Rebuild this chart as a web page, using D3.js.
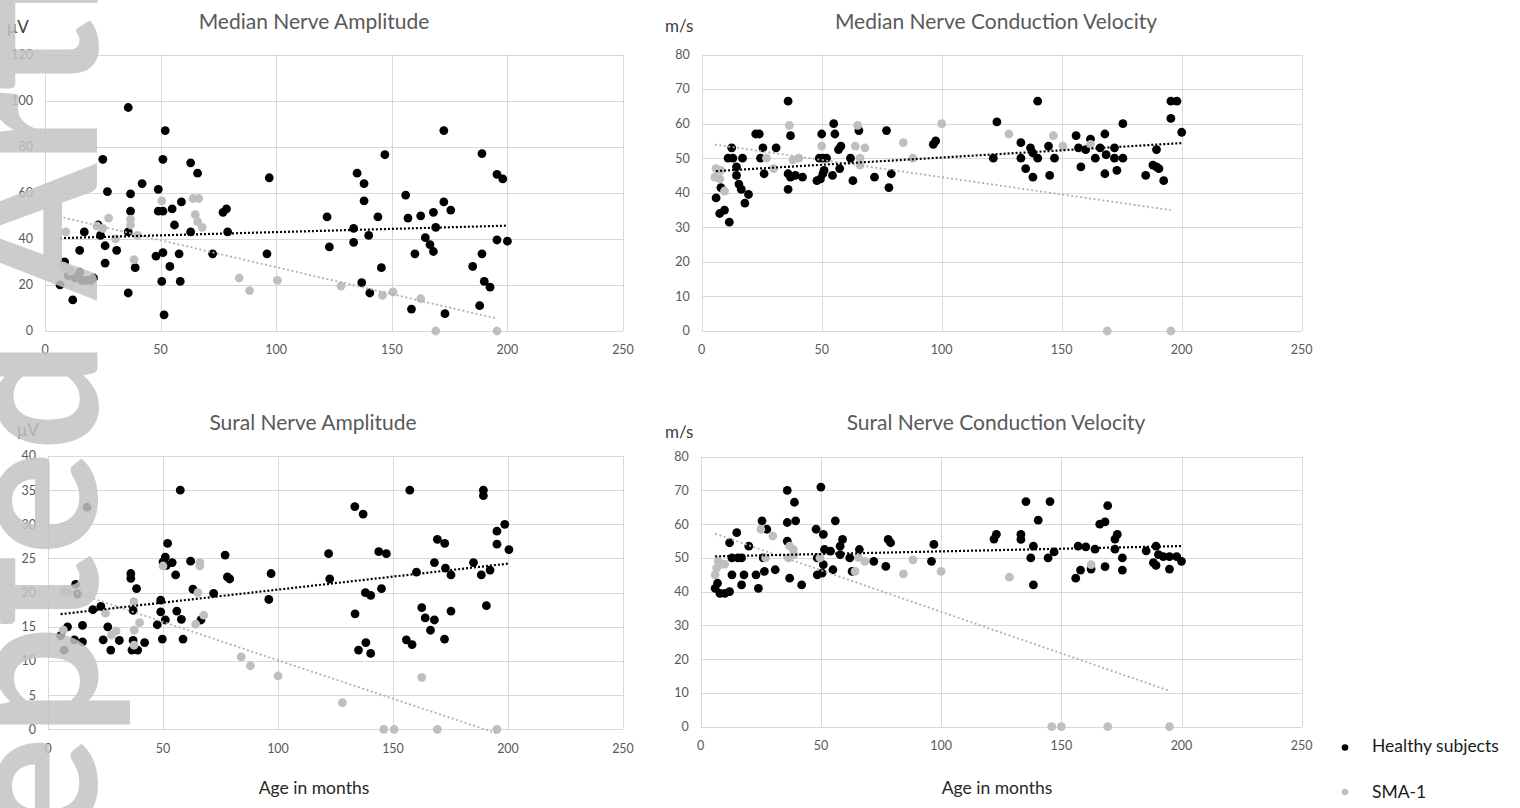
<!DOCTYPE html>
<html><head><meta charset="utf-8">
<script src="https://cdn.jsdelivr.net/npm/d3@7"></script>
<style>
body{margin:0;background:#fff}
svg{display:block}
text{font-family:Lato,"Open Sans",sans-serif}
</style>
</head><body>
<svg id="chart" width="1520" height="808"></svg>
<script>
// ---------- data ----------
const xTicks = [0, 50, 100, 150, 200, 250];
const medianAmpTicks = [0, 20, 40, 60, 80, 100, 120];
const velocityTicks = [0, 10, 20, 30, 40, 50, 60, 70, 80];
const suralAmpTicks = [0, 5, 10, 15, 20, 25, 30, 35, 40];
const seriesNames = ["Healthy subjects", "SMA-1"];
const panelTitles = ["Median Nerve Amplitude", "Median Nerve Conduction Velocity",
                     "Sural Nerve Amplitude", "Sural Nerve Conduction Velocity"];
const unitLabels = ["μV", "m/s", "μV", "m/s"];
const xAxisTitle = "Age in months";
const watermarkText = "Accepted Article";

// [age in months, value]
const medianAmpHealthy = [[36,97],[52,87],[25,74.5],[51,74.5],[63,73],[66,68.5],[97,66.5],[42,64],[49,61.5],[27,60.5],[37,59.5],[59,56],[49,52],[51,52],[55,53],[37,52],[77,51.5],[78.5,53],[56,46],[17,43],[24,41.5],[36,43],[63,43],[79,43],[23,46],[26,37],[15,35],[31,35],[48,32.5],[51,34],[58,33.5],[72.5,33.5],[96,33.5],[8.5,30],[26,29.5],[54,28],[39,27.5],[15,25.5],[10,24],[13,23],[16,22],[18,22],[20,22],[21,23],[6.5,20],[50.5,21.5],[58.5,21.5],[36,16.5],[12,13.5],[51.5,7],[122,49.5],[123,36.5],
  [172.5,87],[147,76.5],[189,77],[135,68.5],[138,64],[195.5,68],[198,66],[138,56.5],[156,59],[172.5,56],[175.5,52.5],[144,49.5],[157,49],[162.5,50],[168,51.5],[133.5,44.5],[169,45],[140,41.5],[133.5,38.5],[164.5,40.5],[166.5,37.5],[168,34.5],[160,33.5],[189,33.5],[195.5,39.5],[200,39],[145.5,27.5],[185,28],[137,21],[190,21.5],[192.5,19],[140.5,16.5],[158.5,9.5],[173,7.5],[188,11]];
const medianAmpSMA = [[50.5,56.5],[64,57.5],[66.5,57.5],[65,50.5],[66,47.5],[68,45],[27.5,49],[37,48.5],[37,46],[9,43],[22.5,45.5],[25,44.5],[30.5,40],[40,41.5],[38.5,31],[8,28],[11,26],[84,23],[88.5,17.5],[100.5,22],[128,19.5],[146,15.5],[150.5,17],[162.5,14],[169,0],[195.5,0]];

const medianCvHealthy = [[36,66.5],[55,60],[50,57],[55.5,57],[65.5,58],[77,58],[37,56.5],[22.5,57],[24,57],[12.5,53],[25.5,53],[31,53],[58,53.5],[57,52.5],[11,50],[13,50],[17,50],[24.5,50],[49,50],[50.5,50],[52,50],[62,50],[14.5,47.5],[57.5,47],[51,46.5],[50.5,45.5],[26,45.5],[36,45.5],[39,45],[37,44.5],[42,44.5],[48,43.5],[49.5,44],[54.5,45],[63,43.5],[72,44.5],[79,45.5],[78,41.5],[14.5,45],[36,41],[15.5,42.5],[16.5,41],[19.5,39.5],[8,41.5],[18,37],[6,38.5],[7.5,34],[9.5,35],[11.5,31.5],[96.5,54],[97.5,55],
  [140,66.5],[195.5,66.5],[198,66.5],[195.5,61.5],[123,60.5],[175.5,60],[200,57.5],[156,56.5],[168,57],[162,55.5],[133,54.5],[144.5,53.5],[157,53],[160,52.5],[166,53],[172,53],[137,53],[138,51.5],[168.5,51],[189.5,52.5],[121.5,50],[133,50],[140,50],[147,50],[164,50],[172,50],[175.5,50],[135,47],[158,47.5],[188,48],[189.5,47.5],[190.5,47],[138,44.5],[145,45],[168,45.5],[173,46.5],[185,45],[192.5,43.5]];
const medianCvSMA = [[36.5,59.5],[65,59.5],[100,60],[50,53.5],[64,53.5],[68,53],[84,54.5],[88,50],[27,50],[38,49.5],[40.5,50],[66,50],[66,48],[30,47],[6,47],[8,46.5],[7.5,44],[5.5,44.5],[9.5,40.5],[128,57],[146.5,56.5],[150.5,53.5],[162,54],[169,0],[195.5,0]];

const suralAmpHealthy = [[57.5,35],[52,27.2],[77,25.5],[51,25.2],[50,24.5],[51.5,24],[54,24.4],[62,24.6],[36,22.8],[36,22.1],[55.5,22.6],[78,22.3],[79,22],[97,22.8],[38.5,20.6],[12,21.2],[12.8,19.8],[63,20.5],[72,19.9],[96,19],[49,18.9],[23,18],[19.5,17.5],[56,17.3],[37,17.4],[49,17.2],[58,16.1],[51,16],[66.5,16],[47.5,15.3],[26,15],[8.5,15],[15,15.2],[5.5,13.7],[11.5,13.1],[15,12.8],[24,13.1],[31,13],[37,13],[42,12.7],[49.7,13.2],[58.7,13.2],[7,11.6],[27.3,11.6],[39,11.6],[36.5,11.6],[17,32.5],
  [122,25.7],[122.5,22],[157.3,35],[189.3,35],[189.3,34.2],[133.4,32.6],[137,31.5],[198.6,30],[195.2,29],[169.3,27.8],[172.5,27.2],[195.2,27.1],[200.4,26.3],[143.8,26],[147.1,25.7],[168,24.4],[185,24.4],[172.8,23.6],[160.2,23],[175.2,22.6],[188.4,22.6],[192.2,23.3],[138,20],[140.3,19.6],[145,20.6],[190.6,18.1],[133.5,16.9],[162.5,17.8],[164,16.3],[168,16],[175.2,17.3],[166.3,14.5],[172.4,13.2],[155.8,13.1],[158.3,12.4],[135,11.6],[138.2,12.7],[140.3,11.1]];
const suralAmpSMA = [[66,24.4],[66,23.9],[50,23.9],[65.2,20],[7,20.3],[8.7,20],[37.3,18.7],[25,17],[67.7,16.7],[64.2,15.4],[39.8,15.6],[37.5,14.5],[29.6,14.4],[27.6,13.8],[6.7,14.5],[37.4,12.3],[84,10.6],[88,9.3],[100,7.8],[128,3.9],[162.5,7.6],[146,0],[150.5,0],[169.3,0],[195.2,0]];

const suralCvHealthy = [[50,71],[36,70],[39,66.5],[25.5,61],[36,60.5],[39.5,61],[56,61],[27.5,58.5],[15,57.5],[48,58.5],[51,57],[36,55],[12,54.5],[20,53.5],[59,55.5],[58,53.5],[78,55.5],[79,54.5],[97,54],[51.5,52.5],[54,52],[66,52.5],[58,51],[13,50],[15.5,50],[17,50],[26,50],[48.5,50],[62,50],[51,48],[50.5,45.5],[48.5,45],[26.5,46],[31,46.5],[55,46.5],[63,46],[72,49],[77,47.5],[96,49],[13,45],[18,45],[23,45],[37,44],[17,42],[24,41],[42,42],[6,41],[7,42.5],[8,39.5],[10,39.5],[12,40],
  [135.3,66.7],[145.3,66.7],[169.3,65.5],[140.4,61.2],[166,60],[168.2,60.7],[122,55.6],[123,57],[133.2,57],[133.2,55.5],[172.3,55.6],[173.3,57],[138.4,53.5],[157,53.5],[160.2,53.3],[164,52.6],[172.3,52.6],[189.4,53.5],[147,51.8],[185.3,52.1],[137.3,50],[144.5,50],[175.4,50],[190.4,51],[192.4,50.4],[195,50.4],[198,50.4],[200,49],[188.3,48.6],[189.4,47.8],[195,46.7],[168.2,47.4],[175.4,46.4],[158,46.4],[162.4,46.7],[156,44],[138.4,42]];
const suralCvSMA = [[25,58.5],[30,56.5],[37,53.5],[38.5,52.5],[36.5,50],[38.8,51],[27,50],[49.6,50],[65.6,50.2],[68.3,49],[64.2,46],[84.3,45.3],[88.3,49.4],[100,46],[7.3,49],[8.7,48.2],[10,48.2],[6.6,47],[6,45],[128.4,44.3],[162.4,48],[146,0],[150,0],[169.3,0],[195,0]];

// ---------- layout ----------
const colors = {healthy: "#000000", sma: "#bfbfbf", grid: "#d9d9d9", tick: "#595959", title: "#595959"};
const panels = [
  {title: panelTitles[0], unit: unitLabels[0], healthy: medianAmpHealthy, sma: medianAmpSMA, yTicks: medianAmpTicks,
   left: 45, right: 623, top: 54.5, bottom: 331, titleX: 314, titleY: 29, unitX: 7, unitY: 33},
  {title: panelTitles[1], unit: unitLabels[1], healthy: medianCvHealthy, sma: medianCvSMA, yTicks: velocityTicks,
   left: 701.7, right: 1301.7, top: 54.5, bottom: 331, titleX: 996, titleY: 29, unitX: 665, unitY: 32},
  {title: panelTitles[2], unit: unitLabels[2], healthy: suralAmpHealthy, sma: suralAmpSMA, yTicks: suralAmpTicks,
   left: 48, right: 623, top: 456, bottom: 729.3, titleX: 313, titleY: 430, unitX: 17, unitY: 436, xTitle: true, xTitleX: 314},
  {title: panelTitles[3], unit: unitLabels[3], healthy: suralCvHealthy, sma: suralCvSMA, yTicks: velocityTicks,
   left: 700.7, right: 1301.7, top: 456.7, bottom: 726.7, titleX: 996, titleY: 430, unitX: 665, unitY: 438, xTitle: true, xTitleX: 997}
];

const svg = d3.select("#chart");

function fit(points) {
  const mx = d3.mean(points, d => d[0]), my = d3.mean(points, d => d[1]);
  let sxy = 0, sxx = 0;
  points.forEach(([x, y]) => { sxy += (x - mx) * (y - my); sxx += (x - mx) * (x - mx); });
  const b = sxy / sxx, a = my - b * mx;
  const ext = d3.extent(points, d => d[0]);
  return ext.map(x => [x, a + b * x]);
}

panels.forEach(p => {
  const g = svg.append("g");
  const x = d3.scaleLinear().domain([0, 250]).range([p.left, p.right]);
  const y = d3.scaleLinear().domain([0, d3.max(p.yTicks)]).range([p.bottom, p.top]);
  const snap = v => Math.round(v) + 0.5;

  // grid
  g.append("g").selectAll("line").data(p.yTicks).join("line")
    .attr("x1", p.left).attr("x2", p.right)
    .attr("y1", d => snap(y(d))).attr("y2", d => snap(y(d)))
    .attr("stroke", colors.grid).attr("stroke-width", 1);
  g.append("g").selectAll("line").data(xTicks).join("line")
    .attr("y1", p.top).attr("y2", p.bottom)
    .attr("x1", d => snap(x(d))).attr("x2", d => snap(x(d)))
    .attr("stroke", colors.grid).attr("stroke-width", 1);

  // tick labels
  g.append("g").selectAll("text").data(p.yTicks).join("text")
    .attr("x", p.left - 12).attr("y", d => y(d)).attr("dy", "0.35em")
    .attr("text-anchor", "end").attr("font-size", 12.5).attr("fill", colors.tick)
    .text(d => d);
  g.append("g").selectAll("text").data(xTicks).join("text")
    .attr("x", d => x(d)).attr("y", p.bottom + 19).attr("dy", "0.35em")
    .attr("text-anchor", "middle").attr("font-size", 12.5).attr("fill", colors.tick)
    .text(d => d);

  // titles
  g.append("text").attr("x", p.titleX).attr("y", p.titleY).attr("text-anchor", "middle")
    .attr("font-size", 21).attr("fill", colors.title).text(p.title);
  g.append("text").attr("x", p.unitX).attr("y", p.unitY)
    .attr("font-size", 17).attr("fill", "#404040").text(p.unit);
  if (p.xTitle) {
    g.append("text").attr("x", p.xTitleX).attr("y", 794).attr("text-anchor", "middle")
      .attr("font-size", 17.5).attr("fill", "#262626").text(xAxisTitle);
  }

  // points
  g.append("g").selectAll("circle").data(p.healthy).join("circle")
    .attr("cx", d => x(d[0])).attr("cy", d => y(d[1])).attr("r", 4.4).attr("fill", colors.healthy);
  g.append("g").selectAll("circle").data(p.sma).join("circle")
    .attr("cx", d => x(d[0])).attr("cy", d => y(d[1])).attr("r", 4.4).attr("fill", colors.sma);

  // linear trendlines
  const line = d3.line().x(d => x(d[0])).y(d => y(d[1]));
  g.append("path").attr("d", line(fit(p.sma))).attr("fill", "none")
    .attr("stroke", "#b0b0b0").attr("stroke-width", 1.8).attr("stroke-dasharray", "2,2.5");
  g.append("path").attr("d", line(fit(p.healthy))).attr("fill", "none")
    .attr("stroke", "#000").attr("stroke-width", 2.2).attr("stroke-dasharray", "2,2");
});

// legend
const legend = svg.append("g");
[[seriesNames[0], colors.healthy, 747.5, 752], [seriesNames[1], colors.sma, 792, 798]].forEach(([name, c, cy, ty]) => {
  legend.append("circle").attr("cx", 1345).attr("cy", cy).attr("r", 3.3).attr("fill", c);
  legend.append("text").attr("x", 1372).attr("y", ty).attr("font-size", 17.5).attr("fill", "#1a1a1a").text(name);
});

// watermark (partly outside the picture, as in the reference)
svg.append("text").attr("transform", "translate(97,1158) rotate(-90)")
  .attr("font-family", "'Liberation Serif', 'Times New Roman', serif").attr("font-size", 195)
  .attr("font-weight", "bold")
  .attr("fill", "#c4c4c4").attr("opacity", 0.85).text(watermarkText);
</script>
</body></html>
